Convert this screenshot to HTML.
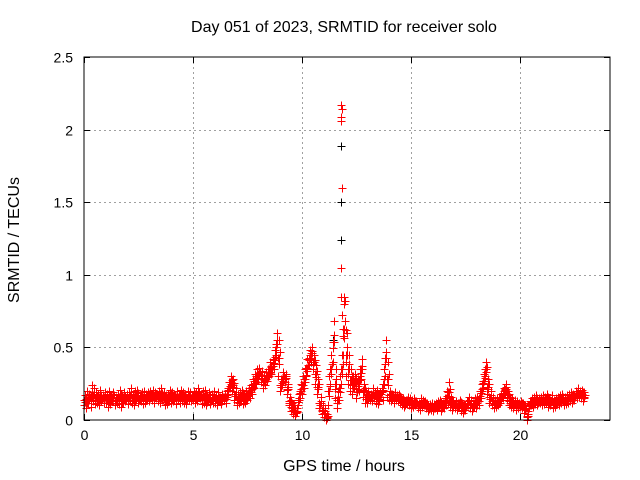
<!DOCTYPE html>
<html><head><meta charset="utf-8"><style>
html,body{margin:0;padding:0;background:#fff;}
svg{display:block;font-family:"Liberation Sans",sans-serif;}
</style></head><body>
<svg id="chart" width="640" height="480">
<text x="344" y="32" font-size="16" text-anchor="middle">Day 051 of 2023, SRMTID for receiver solo</text>
<text x="344" y="471" font-size="16" text-anchor="middle">GPS time / hours</text>
<text x="19" y="240" font-size="16" text-anchor="middle" transform="rotate(-90 19 240)">SRMTID / TECUs</text>
<g id="grid"></g>
<g id="ticks"></g>
<g id="black"></g>
<g id="red"></g>
<rect x="84" y="57" width="526" height="363" fill="none" stroke="#000" stroke-width="1"/>
</svg>
<script>
const xTicks=[0,5,10,15,20];
const yTicks=[0,0.5,1,1.5,2,2.5];
const yTickLabels=["0","0.5","1","1.5","2","2.5"];
const redLow=[.10,.08,.12,.09,.13,.11,.12,.10,.13,.12,
.12,.09,.11,.13,.10,.12,.11,.09,.12,.13,
.11,.13,.12,.10,.14,.12,.13,.11,.12,.14,
.13,.14,.12,.15,.13,.12,.14,.10,.11,.13,
.12,.13,.11,.14,.12,.13,.12,.11,.14,.13,
.14,.12,.13,.15,.11,.12,.10,.13,.11,.12,
.12,.10,.13,.11,.14,.12,.18,.22,.20,.14,
.10,.12,.13,.11,.12,.14,.15,.18,.22,.25,
.28,.26,.22,.24,.27,.30,.32,.35,.45,.30,
.20,.24,.26,.18,.10,.06,.04,.03,.10,.15,
.18,.22,.30,.38,.42,.35,.25,.18,.08,.04,
.02,.00,.10,.25,.40,.15,.08,.14,.25,.45,
.30,.25,.20,.18,.22,.15,.20,.28,.16,.12,
.12,.14,.13,.15,.12,.11,.16,.14,.30,.16,
.14,.13,.12,.14,.13,.12,.10,.09,.11,.10,
.08,.09,.10,.08,.07,.09,.10,.08,.06,.07,
.06,.08,.07,.09,.06,.08,.10,.12,.09,.07,
.08,.07,.09,.06,.05,.07,.10,.08,.06,.09,
.08,.10,.15,.22,.30,.18,.12,.10,.08,.09,
.10,.12,.15,.18,.14,.10,.09,.08,.07,.08,
.09,.08,.05,.00,.08,.10,.09,.11,.10,.12,
.10,.11,.12,.09,.10,.08,.09,.11,.10,.12,
.10,.11,.12,.13,.12,.14,.15,.16,.15,.13];
const redHigh=[.17,.20,.18,.24,.22,.19,.18,.21,.17,.19,
.18,.20,.17,.19,.16,.18,.21,.17,.19,.18,
.19,.22,.18,.20,.21,.17,.19,.20,.18,.19,
.20,.21,.19,.18,.20,.22,.19,.17,.18,.21,
.19,.18,.20,.17,.21,.19,.18,.20,.19,.17,
.20,.19,.22,.18,.20,.21,.17,.19,.18,.20,
.17,.19,.16,.18,.17,.20,.26,.30,.28,.22,
.18,.19,.21,.17,.20,.22,.24,.28,.32,.35,
.36,.34,.30,.33,.35,.40,.42,.48,.60,.55,
.28,.33,.32,.25,.16,.12,.10,.08,.18,.25,
.30,.35,.42,.48,.50,.45,.38,.28,.16,.10,
.08,.04,.30,.45,.68,.35,.20,.30,.45,.80,
.60,.45,.35,.30,.32,.28,.35,.42,.25,.20,
.20,.18,.22,.19,.21,.18,.22,.35,.55,.40,
.20,.18,.19,.17,.18,.16,.15,.14,.16,.15,
.14,.15,.13,.12,.15,.14,.13,.12,.11,.12,
.11,.12,.13,.14,.12,.15,.20,.26,.16,.13,
.13,.12,.14,.12,.11,.13,.16,.14,.12,.15,
.16,.20,.25,.32,.40,.28,.20,.16,.14,.15,
.16,.18,.22,.25,.20,.16,.15,.14,.13,.12,
.13,.12,.10,.06,.13,.15,.16,.17,.15,.16,
.17,.16,.18,.15,.17,.14,.15,.16,.17,.18,
.16,.17,.18,.19,.18,.20,.22,.20,.21,.19];
const spikeTimes=[11.8,11.82,11.78,11.8,11.82,11.8,11.78,11.82,11.95,11.97,12.0,11.9];
const spikeValues=[2.17,2.14,2.09,2.06,1.6,1.05,0.85,0.72,0.85,0.82,0.62,0.58];
const blackTimes=[11.8,11.8,11.8,8.8,11.4,12.05,10.4,18.4];
const blackValues=[1.89,1.5,1.24,0.45,0.55,0.45,0.4,0.3];
const NS="http://www.w3.org/2000/svg";
const X0=84,X1=610,Y0=420,Y1=57,XMAX=24.13,YMAX=2.5;
function sx(t){return X0+t/XMAX*(X1-X0);}
function sy(v){return Y0-v/YMAX*(Y0-Y1);}
const grid=document.getElementById('grid'),ticks=document.getElementById('ticks');
function line(g,x1,y1,x2,y2,stroke,dash){const l=document.createElementNS(NS,'line');l.setAttribute('x1',x1);l.setAttribute('y1',y1);l.setAttribute('x2',x2);l.setAttribute('y2',y2);l.setAttribute('stroke',stroke);if(dash)l.setAttribute('stroke-dasharray',dash);g.appendChild(l);return l;}
function text(x,y,s,anchor){const t=document.createElementNS(NS,'text');t.setAttribute('x',x);t.setAttribute('y',y);t.setAttribute('font-size','14');t.setAttribute('text-anchor',anchor);t.textContent=s;ticks.appendChild(t);return t;}
xTicks.forEach(v=>{const x=Math.round(sx(v))+0.5;
 if(v>0){const g=line(grid,x,Y1,x,Y0,'#a0a0a0','2,3');}
 line(ticks,x,Y0,x,Y0-6,'#000');line(ticks,x,Y1,x,Y1+6,'#000');
 const t=text(x,440,String(v),'middle');
 
 });
yTicks.forEach((v,i)=>{const y=Math.round(sy(v))+0.5;
 if(v>0&&v<YMAX){const g=line(grid,X0,y,X1,y,'#a0a0a0','2,3');}
 line(ticks,X0,y,X0+6,y,'#000');line(ticks,X1,y,X1-6,y,'#000');
 const t=text(73,y+5,yTickLabels[i],'end');
 
 });
function plus(g,t,v,color){const x=Math.round(sx(t))+0.5,y=Math.round(sy(v))+0.5;
 const p=document.createElementNS(NS,'path');
 p.setAttribute('d',`M${x-4} ${y}H${x+4}M${x} ${y-4}V${y+4}`);
 p.setAttribute('stroke',color);p.setAttribute('fill','none');
 
 
 g.appendChild(p);}
const bg=document.getElementById('black'),rg=document.getElementById('red');
blackTimes.forEach((t,i)=>plus(bg,t,blackValues[i],'#000'));
redLow.forEach((v,i)=>plus(rg,i*0.1,v,'#f00'));
redHigh.forEach((v,i)=>plus(rg,i*0.1+0.05,v,'#f00'));
redLow.forEach((v,i)=>plus(rg,i*0.1+0.05,(v+redHigh[i])/2,'#f00'));
redLow.forEach((v,i)=>plus(rg,i*0.1+0.025,(2*v+redHigh[i])/3,'#f00'));
redHigh.forEach((v,i)=>plus(rg,i*0.1+0.075,(redLow[i]+2*v)/3,'#f00'));
redHigh.forEach((v,i)=>plus(rg,i*0.1,(redLow[i]+v)/2,'#f00'));
spikeTimes.forEach((t,i)=>plus(rg,t,spikeValues[i],'#f00'));
</script>
</body></html>
